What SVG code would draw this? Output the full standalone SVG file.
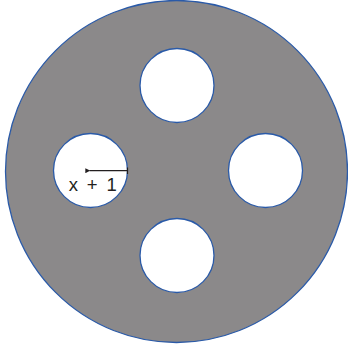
<svg xmlns="http://www.w3.org/2000/svg" width="348" height="350" viewBox="0 0 348 350">
<style>
.outer{fill:#8b898a;stroke:#2a5aa8;stroke-width:1.3}
.hole{fill:#ffffff;stroke:#2a5aa8;stroke-width:1.3}
.lbl{font-family:"Liberation Sans",Arial,sans-serif;font-size:18.5px;fill:#231f20}
</style>
<defs>
<marker id="ah" viewBox="0 0 6 6" refX="1" refY="3" markerWidth="5" markerHeight="5" orient="auto-start-reverse" markerUnits="userSpaceOnUse">
<path d="M6,0 L0,3 L6,6 Z" fill="#231f20"/>
</marker>
</defs>
<g id="disc"><circle class="outer" cx="176.5" cy="171.5" r="171"/></g>
<g id="hole-top"><circle class="hole" cx="177" cy="85.5" r="37"/></g>
<g id="hole-left"><circle class="hole" cx="90.5" cy="170.5" r="37"/></g>
<g id="hole-right"><circle class="hole" cx="265.5" cy="170.5" r="37"/></g>
<g id="hole-bottom"><circle class="hole" cx="177" cy="255.5" r="37"/></g>
<g id="connectors">
<line x1="127.5" y1="170.7" x2="89.5" y2="170.7" stroke="#231f20" stroke-width="1.2" marker-end="url(#ah)"/>
<line x1="127.5" y1="167.5" x2="127.5" y2="174" stroke="#231f20" stroke-width="1.2"/>
</g>
<g id="label"><text class="lbl" x="68.8" y="190.7" textLength="48" lengthAdjust="spacing">x + 1</text></g>
</svg>
